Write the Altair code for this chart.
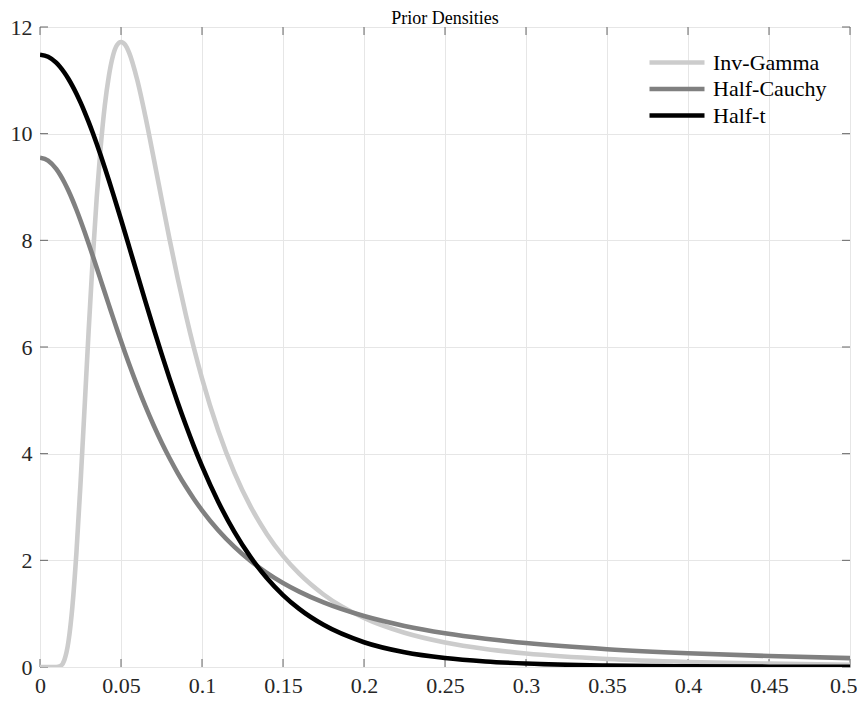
import altair as alt
import pandas as pd

# ---- data ----
x_vals = [0, 0.005, 0.01, 0.0125, 0.015, 0.0175, 0.02, 0.0225, 0.025, 0.0275,
          0.03, 0.0325, 0.035, 0.0375, 0.04, 0.0425, 0.045, 0.0475, 0.05, 0.0525,
          0.055, 0.06, 0.065, 0.07, 0.075, 0.08, 0.085, 0.09, 0.095, 0.1,
          0.11, 0.12, 0.13, 0.14, 0.15, 0.16, 0.175, 0.2, 0.225, 0.25,
          0.275, 0.3, 0.35, 0.4, 0.45, 0.5]

inv_gamma = [0, 0, 0.001, 0.018, 0.128, 0.464, 1.135, 2.152, 3.435, 4.853,
             6.286, 7.622, 8.796, 9.767, 10.528, 11.08, 11.457, 11.66, 11.72, 11.67,
             11.52, 11.01, 10.33, 9.568, 8.784, 8.016, 7.287, 6.607, 5.981, 5.413,
             4.435, 3.644, 3.007, 2.495, 2.083, 1.749, 1.360, 0.920, 0.642, 0.460,
             0.338, 0.254, 0.151, 0.095, 0.063, 0.043]

half_cauchy = [9.549, 9.496, 9.339, 9.225, 9.089, 8.933, 8.761, 8.573, 8.372, 8.160,
               7.941, 7.715, 7.486, 7.254, 7.021, 6.790, 6.560, 6.334, 6.111, 5.894,
               5.682, 5.276, 4.895, 4.542, 4.215, 3.914, 3.637, 3.383, 3.151, 2.938,
               2.565, 2.252, 1.988, 1.765, 1.575, 1.413, 1.210, 0.955, 0.771, 0.634,
               0.530, 0.449, 0.334, 0.258, 0.205, 0.167]

half_t = [11.48, 11.442, 11.331, 11.248, 11.147, 11.030, 10.897, 10.749, 10.586, 10.410,
          10.221, 10.021, 9.810, 9.590, 9.362, 9.127, 8.886, 8.640, 8.390, 8.137,
          7.882, 7.370, 6.861, 6.361, 5.875, 5.407, 4.960, 4.537, 4.138, 3.766,
          3.099, 2.533, 2.060, 1.669, 1.349, 1.089, 0.790, 0.465, 0.277, 0.168,
          0.104, 0.066, 0.028, 0.013, 0.006, 0.003]

series_names = ["Inv-Gamma", "Half-Cauchy", "Half-t"]
series_colors = ["#cccccc", "#808080", "#000000"]

x_ticks = [0, 0.05, 0.1, 0.15, 0.2, 0.25, 0.3, 0.35, 0.4, 0.45, 0.5]
y_ticks = [0, 2, 4, 6, 8, 10, 12]
title_text = "Prior Densities"

FONT = "Liberation Serif"
W, H = 810, 640
X_MAX, Y_MAX = 0.5, 12

# ---- tables ----
rows = []
for name, ys in zip(series_names, [inv_gamma, half_cauchy, half_t]):
    for i, (xv, yv) in enumerate(zip(x_vals, ys)):
        rows.append({"x": xv, "y": yv, "series": name, "order": i})
df = pd.DataFrame(rows)

tx = 8 / W * X_MAX
ty = 8 / H * Y_MAX
tick_rows = []
for t in x_ticks:
    tick_rows.append({"x": t, "x2": t, "y": 0, "y2": ty})
    tick_rows.append({"x": t, "x2": t, "y": Y_MAX, "y2": Y_MAX - ty})
for t in y_ticks:
    tick_rows.append({"x": 0, "x2": tx, "y": t, "y2": t})
    tick_rows.append({"x": X_MAX, "x2": X_MAX - tx, "y": t, "y2": t})
ticks_df = pd.DataFrame(tick_rows)

xscale = alt.Scale(domain=[0, X_MAX], nice=False, zero=False)
yscale = alt.Scale(domain=[0, Y_MAX], nice=False, zero=False)

last_x = f"datum.value >= {X_MAX}"
x_axis = alt.Axis(values=x_ticks, format="~g", title=None, grid=True, ticks=False,
                  domain=False, labelPadding=8, labelFlush=False,
                  labelFont=FONT, labelFontSize=22, labelColor="#262626",
                  labelAlign={"condition": {"test": last_x, "value": "right"}, "value": "center"},
                  labelOffset={"condition": {"test": last_x, "value": 7}, "value": 0})
y_axis = alt.Axis(values=y_ticks, format="~g", title=None, grid=True, ticks=False,
                  domain=False, labelPadding=8,
                  labelFont=FONT, labelFontSize=22, labelColor="#262626")

tick_layer = alt.Chart(ticks_df).mark_rule(color="#666666", strokeWidth=1).encode(
    x=alt.X("x:Q", scale=xscale, axis=x_axis),
    x2="x2:Q",
    y=alt.Y("y:Q", scale=yscale, axis=y_axis),
    y2="y2:Q",
)

line_layer = alt.Chart(df).mark_line(strokeWidth=4.6, interpolate="monotone", clip=True).encode(
    x=alt.X("x:Q", scale=xscale),
    y=alt.Y("y:Q", scale=yscale),
    color=alt.Color(
        "series:N",
        scale=alt.Scale(domain=series_names, range=series_colors),
        sort=series_names,
        legend=alt.Legend(
            title=None, orient="none", legendX=623.5, legendY=22,
            symbolType="M-2.5,0H2.5", symbolSize=484, symbolStrokeWidth=4.6,
            labelFont=FONT, labelFontSize=22, labelColor="#000000",
            labelOffset=22.5, rowPadding=1.5, padding=0,
        ),
    ),
    order="order:Q",
)

title_layer = alt.Chart(pd.DataFrame({"t": [title_text]})).mark_text(
    font=FONT, fontSize=18, color="#000000", align="center", baseline="alphabetic",
).encode(text="t:N", x=alt.value(W / 2), y=alt.value(-3))

chart = alt.layer(tick_layer, line_layer, title_layer).properties(
    width=W, height=H,
    autosize=alt.AutoSizeParams(type="none"),
    padding={"left": 32, "top": 19, "right": 7, "bottom": 30},
).configure_axis(
    labelFont=FONT, labelFontSize=22, labelColor="#262626",
    gridColor="#e6e6e6", gridWidth=1, gridOpacity=1,
).configure_view(stroke="#666666", strokeWidth=1)

chart.save("out.html", embed_options={"renderer": "svg", "actions": False})
